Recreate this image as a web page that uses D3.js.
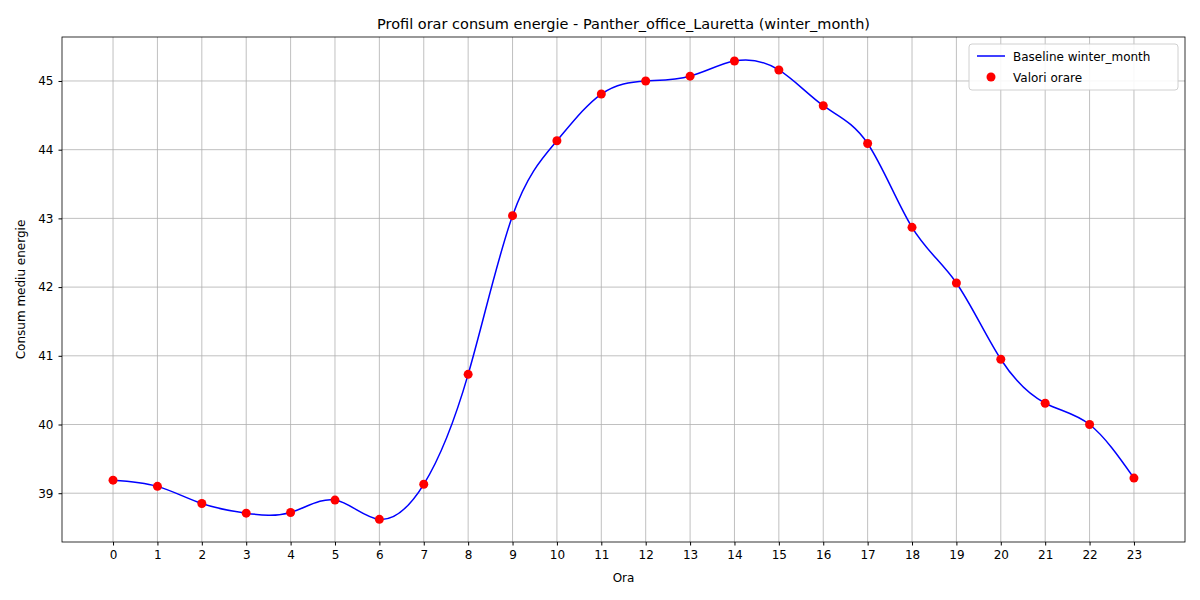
<!DOCTYPE html>
<html><head><meta charset="utf-8">
<script src="https://cdn.jsdelivr.net/npm/d3@7"></script>
<style>body{margin:0;background:#fff}text{font-family:"DejaVu Sans",sans-serif}</style>
</head><body>
<svg width="1200" height="600"></svg>
<script>
var hours = d3.range(0, 24);
var values = [39.19, 39.10, 38.85, 38.71, 38.72, 38.90, 38.62, 39.13, 40.73, 43.04, 44.13, 44.81,
              45.00, 45.07, 45.29, 45.16, 44.64, 44.09, 42.87, 42.06, 40.95, 40.31, 40.00, 39.22];
var yTicks = [39, 40, 41, 42, 43, 44, 45];

var svg = d3.select("svg"),
    m = {left: 62, right: 15, top: 37, bottom: 58},
    w = 1200 - m.left - m.right,
    h = 600 - m.top - m.bottom;

var x = d3.scaleLinear().domain([-1.15, 24.15]).range([m.left, m.left + w]);
var y = d3.scaleLinear().domain([38.29, 45.64]).range([m.top + h, m.top]);

// grid
svg.append("g").selectAll("line").data(hours).enter().append("line")
    .attr("x1", d => x(d)).attr("x2", d => x(d)).attr("y1", m.top).attr("y2", m.top + h)
    .attr("stroke", "#b0b0b0").attr("stroke-width", 0.8);
svg.append("g").selectAll("line").data(yTicks).enter().append("line")
    .attr("y1", d => y(d)).attr("y2", d => y(d)).attr("x1", m.left).attr("x2", m.left + w)
    .attr("stroke", "#b0b0b0").attr("stroke-width", 0.8);

var xa = svg.append("g").attr("transform", "translate(0," + (m.top + h) + ")")
    .call(d3.axisBottom(x).tickValues(hours).tickFormat(d3.format("d")).tickSize(3.5).tickPadding(5));
var ya = svg.append("g").attr("transform", "translate(" + m.left + ",0)")
    .call(d3.axisLeft(y).tickValues(yTicks).tickSize(3.5).tickPadding(5));
[xa, ya].forEach(a => { a.selectAll("text").attr("font-size", 12).attr("fill", "#000"); a.select(".domain").remove(); });

svg.append("rect").attr("x", m.left).attr("y", m.top).attr("width", w).attr("height", h)
    .attr("fill", "none").attr("stroke", "#000").attr("stroke-width", 0.8);

var line = d3.line().x((d, i) => x(hours[i])).y(d => y(d)).curve(d3.curveNatural);
svg.append("path").datum(values).attr("d", line).attr("fill", "none").attr("stroke", "#0000ff").attr("stroke-width", 1.5);

svg.append("g").selectAll("circle").data(values).enter().append("circle")
    .attr("cx", (d, i) => x(hours[i])).attr("cy", d => y(d)).attr("r", 4.5).attr("fill", "#ff0000");

svg.append("text").attr("x", m.left + w / 2).attr("y", 29).attr("text-anchor", "middle").attr("font-size", 14.5)
    .text("Profil orar consum energie - Panther_office_Lauretta (winter_month)");
svg.append("text").attr("x", m.left + w / 2).attr("y", 582).attr("text-anchor", "middle").attr("font-size", 12).text("Ora");
svg.append("text").attr("transform", "translate(25," + (m.top + h / 2) + ") rotate(-90)")
    .attr("text-anchor", "middle").attr("font-size", 12).text("Consum mediu energie");

// legend
var lg = svg.append("g").attr("transform", "translate(969,44)");
lg.append("rect").attr("width", 209).attr("height", 46).attr("rx", 3).attr("fill", "#fff")
    .attr("stroke", "#ccc").attr("opacity", 0.9);
lg.append("line").attr("x1", 8).attr("x2", 36).attr("y1", 12).attr("y2", 12).attr("stroke", "#0000ff").attr("stroke-width", 1.5);
lg.append("circle").attr("cx", 22).attr("cy", 33).attr("r", 4.5).attr("fill", "#ff0000");
lg.append("text").attr("x", 44).attr("y", 16.5).attr("font-size", 12).text("Baseline winter_month");
lg.append("text").attr("x", 44).attr("y", 37.5).attr("font-size", 12).text("Valori orare");
</script>
</body></html>
